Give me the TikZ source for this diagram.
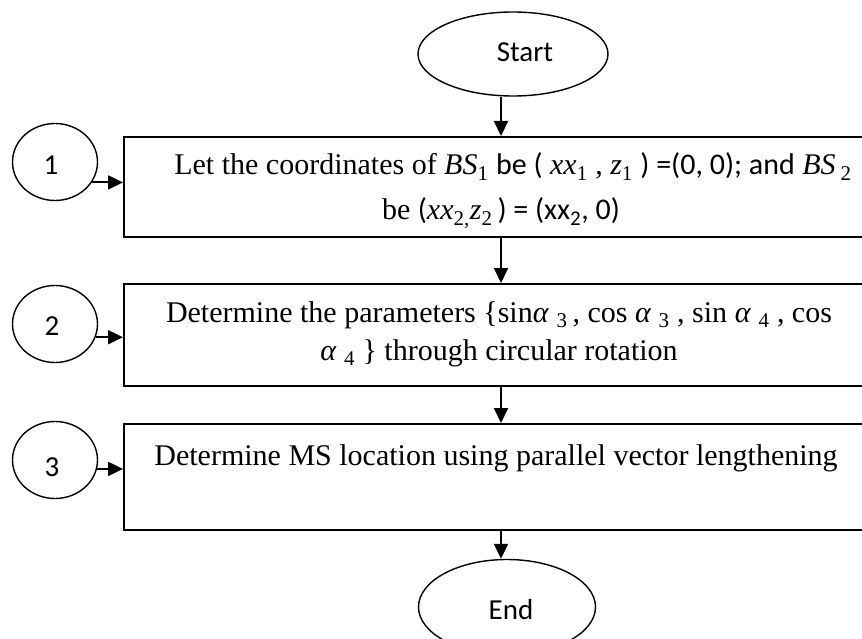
\documentclass[tikz,border=0pt]{standalone}
\usepackage{fontspec}
\setmainfont{Liberation Serif}
\newfontfamily\calib{Carlito}
\usetikzlibrary{arrows.meta,shapes.geometric}

% italic letters and lowered indices of the formulas
\newcommand\mv[1]{\textit{#1}}
\newcommand\ix[1]{\textsubscript{#1}}

\begin{document}
\begin{tikzpicture}[x=1pt,y=-1pt,
  stepbox/.style={draw,rectangle,line width=2pt,inner sep=0pt,
    minimum width=750pt},
  term/.style={draw,ellipse,line width=1.4pt,inner sep=0pt,
    minimum width=190pt,minimum height=84pt},
  tag/.style={draw,ellipse,line width=1.4pt,inner sep=0pt,
    minimum width=85pt,minimum height=77pt},
  serif/.style={anchor=base,inner sep=0pt,font=\fontsize{30}{40}\selectfont},
  sans/.style={anchor=base,inner sep=0pt,font=\calib\fontsize{29}{36}\selectfont},
  arr/.style={line width=2pt,-{Triangle[length=15pt,width=14pt]}}]

\clip (0,0) rectangle (862,639);

% terminals
\node[term] (start) at (513,54) {};
\node[term,minimum width=177pt,minimum height=95pt] (end) at (507,607) {};
\node[sans] (tstart) at (525,62) {Start};
\node[sans] (tend) at (511,619) {End};

% process boxes
\node[stepbox,minimum height=100pt] (b1) at (499,187) {};
\node[stepbox,minimum height=102pt] (b2) at (499,335) {};
\node[stepbox,minimum height=106pt] (b3) at (499,477) {};

\node[serif] (l11) at (513,175) {Let the coordinates of \mv{BS}\ix{1} {\calib be (} \mv{xx}\ix{1} , \mv{z}\ix{1} {\calib) =(0, 0); and} \mv{BS}\,\ix{2}};
\node[serif] (l12) at (501,220) {be {\calib(}\mv{xx}\ix{2,}\mv{z}\ix{2}{\calib\,) = (xx\ix{2}, 0)}};
\node[serif] (l21) at (499,322) {Determine the parameters \{sin\mv{α} \ix{3}\,, cos \mv{α} \ix{3} , sin \mv{α} \ix{4} , cos};
\node[serif] (l22) at (499,360) {\mv{α} \ix{4} \} through circular rotation};
\node[serif] (l31) at (496,465) {Determine MS location using parallel vector lengthening};

% numbered markers
\node[tag] (c1) at (55,162) {};
\node[tag] (c2) at (55,324) {};
\node[tag] (c3) at (55,460) {};
\node[sans] (n1) at (51,175) {1};
\node[sans] (n2) at (52,335) {2};
\node[sans] (n3) at (52,476) {3};

% connectors
\coordinate (ax) at (501,0);
\draw[arr] (start.south -| ax) -- (b1.north -| ax);
\draw[arr] (b1.south -| ax) -- (b2.north -| ax);
\draw[arr] (b2.south -| ax) -- (b3.north -| ax);
\draw[arr] (b3.south -| ax) -- (end.north -| ax);

\draw[arr] (c1.-29) -- (c1.-29 -| b1.west);
\draw[arr] (c2.-18) -- (c2.-18 -| b2.west);
\draw[arr] (c3.-12) -- (c3.-12 -| b3.west);
\end{tikzpicture}
\end{document}
